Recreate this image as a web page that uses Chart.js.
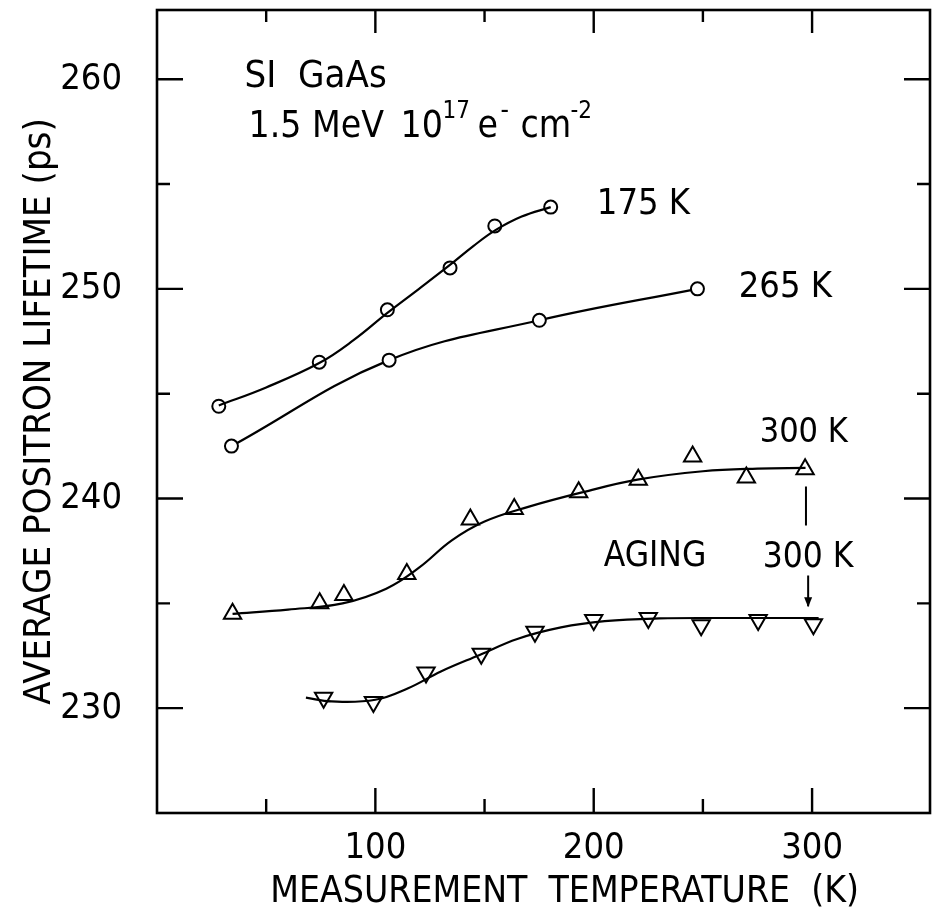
<!DOCTYPE html>
<html>
<head>
<meta charset="utf-8">
<script src="https://cdn.jsdelivr.net/npm/chart.js@4.4.0/dist/chart.umd.min.js"></script>
<style>
  html, body { margin: 0; padding: 0; background: #fff; }
</style>
</head>
<body>
<canvas id="grafico" width="936" height="918"></canvas>
<script>
const FONTE = '"Liberation Sans Narrow", "DejaVu Sans Condensed", "DejaVu Sans", sans-serif';

// Recozimento a 175 K (círculos)
const t175 = [28.3, 74.3, 105.5, 134.2, 154.7, 180.3];
const tau175 = [244.4, 246.5, 249.0, 251.0, 253.0, 253.9];
// curva traçada 175 K
const t175Curva = [28.3, 50, 74.3, 90, 105.5, 120, 134.3, 145, 155, 167, 180.3];
const tau175Curva = [244.44, 245.3, 246.46, 247.55, 248.85, 250.0, 251.15, 252.05, 252.8, 253.45, 253.9];

// Recozimento a 265 K (círculos)
const t265 = [34.1, 106.3, 175.1, 247.5];
const tau265 = [242.5, 246.6, 248.5, 250.0];

// Recozimento a 300 K (triângulos para cima)
const t300 = [34.6, 74.5, 85.6, 114.4, 143.5, 163.6, 193.1, 220.4, 245.3, 269.9, 296.8];
const tau300 = [234.5, 235.0, 235.4, 236.4, 239.0, 239.5, 240.3, 240.9, 242.0, 241.0, 241.4];
// curva ajustada 300 K
const t300Curva = [34.6, 60, 85, 105, 120, 135, 150, 170, 195, 220, 250, 275, 297];
const tau300Curva = [234.5, 234.7, 235.0, 235.7, 236.7, 238.0, 238.9, 239.6, 240.3, 240.9, 241.3, 241.43, 241.46];

// Envelhecimento a 300 K (triângulos para baixo)
const tAging = [76.3, 99.1, 123.2, 148.5, 173.1, 200.0, 225.0, 249.2, 275.3, 300.6];
const tauAging = [230.5, 230.3, 231.7, 232.6, 233.65, 234.2, 234.3, 233.95, 234.2, 234.0];
// curva ajustada envelhecimento
const tAgingCurva = [68.2, 80, 100, 115, 130, 148, 165, 185, 205, 230, 260, 303];
const tauAgingCurva = [230.5, 230.32, 230.4, 230.95, 231.75, 232.55, 233.3, 233.85, 234.15, 234.28, 234.3, 234.3];

// Eixos
const xTicks = [50, 100, 150, 200, 250, 300];
const xRotulos = [100, 200, 300];
const yTicks = [230, 235, 240, 245, 250, 255, 260];
const yRotulos = [230, 240, 250, 260];

function pontos(xs, ys) {
  return xs.map((x, i) => ({ x: x, y: ys[i] }));
}

// moldura, ticks para dentro e anotações
const moldura = {
  id: 'moldura',
  afterDatasetsDraw(chart) {
    const { ctx, chartArea: a, scales: { x, y } } = chart;
    ctx.save();
    ctx.strokeStyle = '#000';
    ctx.lineWidth = 2.6;
    ctx.strokeRect(a.left, a.top, a.right - a.left, a.bottom - a.top);

    ctx.lineWidth = 2.4;
    ctx.beginPath();
    xTicks.forEach(v => {
      const px = x.getPixelForValue(v);
      const len = xRotulos.includes(v) ? 25 : 14;
      ctx.moveTo(px, a.bottom); ctx.lineTo(px, a.bottom - len);
      ctx.moveTo(px, a.top); ctx.lineTo(px, a.top + len - 2);
    });
    yTicks.forEach(v => {
      const py = y.getPixelForValue(v);
      const len = yRotulos.includes(v) ? 26 : 13;
      ctx.moveTo(a.left, py); ctx.lineTo(a.left + len, py);
      ctx.moveTo(a.right, py); ctx.lineTo(a.right - len, py);
    });
    ctx.stroke();

    // textos
    ctx.fillStyle = '#000';
    ctx.textBaseline = 'alphabetic';
    ctx.textAlign = 'left';
    const texto = (s, tx, ty, tam, dx = 0, dy = 0) => {
      ctx.font = tam + 'px ' + FONTE;
      ctx.fillText(s, x.getPixelForValue(tx) + dx, y.getPixelForValue(ty) + dy);
    };
    texto('SI  GaAs', 40.1, 259.62, 38);
    texto('1.5 MeV', 41.9, 257.24, 37);
    texto('10', 41.9, 257.24, 37, 152);
    texto('17', 41.9, 257.24, 24, 194, -19);
    texto('e', 41.9, 257.24, 37, 229);
    texto('-', 41.9, 257.24, 26, 252, -19);
    texto('cm', 41.9, 257.24, 37, 272);
    texto('-2', 41.9, 257.24, 24, 322, -19);
    texto('175 K', 201.4, 253.57, 36);
    texto('265 K', 266.4, 249.62, 36);
    texto('300 K', 276.0, 242.71, 34);
    texto('AGING', 204.6, 236.76, 35);
    texto('300 K', 277.4, 236.71, 35);

    // traço e seta do envelhecimento
    ctx.lineWidth = 2;
    ctx.beginPath();
    ctx.moveTo(x.getPixelForValue(297.2), y.getPixelForValue(240.57));
    ctx.lineTo(x.getPixelForValue(297.2), y.getPixelForValue(238.71));
    const sx = x.getPixelForValue(298.2);
    const sy0 = y.getPixelForValue(236.33);
    const sy1 = y.getPixelForValue(234.86);
    ctx.moveTo(sx, sy0);
    ctx.lineTo(sx, sy1);
    ctx.stroke();
    ctx.beginPath();
    ctx.moveTo(sx, sy1 + 1);
    ctx.lineTo(sx - 4, sy1 - 9);
    ctx.lineTo(sx + 4, sy1 - 9);
    ctx.closePath();
    ctx.fill();
    ctx.restore();
  }
};

const marcador = {
  borderColor: '#000',
  backgroundColor: '#fff',
  pointBorderWidth: 2,
  pointHoverRadius: 0
};

const curva = {
  showLine: true,
  tension: 0.4,
  borderColor: '#000',
  borderWidth: 2.2,
  pointRadius: 0
};

new Chart(document.getElementById('grafico').getContext('2d'), {
  type: 'scatter',
  data: {
    datasets: [
      { ...curva, label: 'curva 175 K', data: pontos(t175Curva, tau175Curva) },
      { ...curva, label: 'curva 300 K', data: pontos(t300Curva, tau300Curva) },
      { ...curva, label: 'curva envelhecimento', data: pontos(tAgingCurva, tauAgingCurva) },
      {
        ...marcador,
        label: '175 K',
        data: pontos(t175, tau175),
        showLine: false,
        pointStyle: 'circle',
        pointRadius: 6.5
      },
      {
        ...marcador,
        label: '265 K',
        data: pontos(t265, tau265),
        showLine: true,
        tension: 0.4,
        borderWidth: 2.2,
        pointStyle: 'circle',
        pointRadius: 6.5
      },
      {
        ...marcador,
        label: '300 K',
        data: pontos(t300, tau300),
        showLine: false,
        pointStyle: 'triangle',
        pointRadius: 10
      },
      {
        ...marcador,
        label: 'envelhecimento 300 K',
        data: pontos(tAging, tauAging),
        showLine: false,
        pointStyle: 'triangle',
        rotation: 180,
        pointRadius: 10
      }
    ]
  },
  options: {
    responsive: false,
    animation: false,
    layout: { autoPadding: false, padding: { top: 10, right: 6, left: 0, bottom: 0 } },
    plugins: {
      legend: { display: false },
      tooltip: { enabled: false }
    },
    scales: {
      x: {
        type: 'linear',
        min: 0,
        max: 354,
        grid: { display: false, drawTicks: false },
        border: { display: false },
        afterBuildTicks: s => { s.ticks = xTicks.map(v => ({ value: v })); },
        afterFit: s => { s.height = 105; s.paddingLeft = 0; s.paddingRight = 0; },
        ticks: {
          autoSkip: false,
          maxRotation: 0,
          padding: 14,
          color: '#000',
          font: { family: FONTE, size: 36 },
          callback: v => xRotulos.includes(v) ? String(v) : ''
        },
        title: {
          display: true,
          text: '    MEASUREMENT  TEMPERATURE  (K)',
          color: '#000',
          font: { family: FONTE, size: 37, lineHeight: 1 },
          padding: { top: 0, bottom: 7 }
        }
      },
      y: {
        type: 'linear',
        min: 225,
        max: 263.3,
        grid: { display: false, drawTicks: false },
        border: { display: false },
        afterBuildTicks: s => { s.ticks = yTicks.map(v => ({ value: v })); },
        afterFit: s => { s.width = 157; s.paddingTop = 0; s.paddingBottom = 0; },
        ticks: {
          autoSkip: false,
          padding: 35,
          color: '#000',
          font: { family: FONTE, size: 36 },
          callback: v => yRotulos.includes(v) ? String(v) : ''
        },
        title: {
          display: true,
          text: 'AVERAGE POSITRON LIFETIME (ps)',
          color: '#000',
          font: { family: FONTE, size: 38, lineHeight: 1 },
          padding: { top: 21, bottom: 0 }
        }
      }
    }
  },
  plugins: [moldura]
});
</script>
</body>
</html>
